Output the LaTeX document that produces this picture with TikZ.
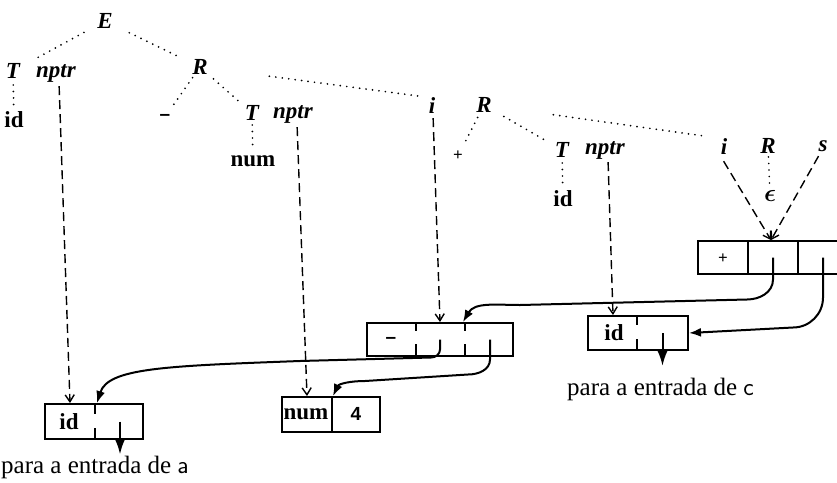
\documentclass[tikz,border=0pt]{standalone}
\usepackage{fontspec}
\setmainfont{Liberation Serif}
\newfontfamily\sansf{Liberation Sans}
\usetikzlibrary{arrows.meta,calc}
\begin{document}
\begin{tikzpicture}[x=1pt,y=-1pt,
  lab/.style={font=\fontsize{23}{26}\selectfont\bfseries\itshape, inner sep=0pt},
  tok/.style={font=\fontsize{23}{26}\selectfont\bfseries, inner sep=0pt},
  small/.style={font=\fontsize{17}{19}\selectfont\bfseries, inner sep=0pt},
  opst/.style={font=\fontsize{19}{21}\selectfont\sansf\bfseries, inner sep=0pt},
  epsst/.style={font=\fontsize{23}{26}\selectfont\boldmath, inner sep=0pt},
  note/.style={font=\fontsize{25}{28}\selectfont, inner sep=0pt, anchor=base west},
  dotl/.style={line width=1.9pt, dash pattern=on 0pt off 6.5pt, line cap=round},
  dsh/.style={line width=1.4pt, dash pattern=on 9pt off 5pt, -{Straight Barb[length=7pt,width=9pt,line width=1.4pt]}},
  ptr/.style={line width=2pt, -{Latex[length=12pt,width=9pt]}},
  ptrdown/.style={line width=2pt, -{Latex[length=15pt,width=10pt]}},
  boxs/.style={draw, line width=1.9pt, inner sep=0pt},
  divl/.style={line width=1.9pt}]
\clip (0,0) rectangle (837,482);

% ---------- tree labels ----------
\node[lab] (E) at (105,21) {E};
\node[lab] (T1) at (13,71) {T};
\node[lab] (np1) at (56,73) {nptr};
\node[tok] (id1) at (14,120) {id};
\node[lab] (R1) at (200,67) {R};
\node[opst] (mi1) at (165,117) {–};
\node[lab] (T2) at (252,113) {T};
\node[lab] (np2) at (293,114) {nptr};
\node[tok] (num1) at (253,161) {num};
\node[lab] (i1) at (432,106) {i};
\node[lab] (R2) at (484,105) {R};
\node[small] (pl1) at (458,156) {+};
\node[lab] (T3) at (562,150) {T};
\node[lab] (np3) at (605,150) {nptr};
\node[tok] (id3) at (563,199) {id};
\node[lab] (i2) at (724,147) {i};
\node[lab] (R3) at (768,146) {R};
\node[lab] (s1) at (823,146) {s};
\node[epsst] (ep) at (770,196) {$\epsilon$};

% ---------- dotted tree edges ----------
\draw[dotl, shorten <=24pt, shorten >=24pt] (E.center) -- (T1.center);
\draw[dotl, shorten <=27pt, shorten >=22pt] (E.center) -- (R1.center);
\draw[dotl, shorten <=14pt, shorten >=13pt] (T1.center) -- (id1.center);
\draw[dotl, shorten <=13pt, shorten >=11pt] (R1.center) -- (mi1.center);
\draw[dotl, shorten <=18pt, shorten >=13pt] (R1.center) -- (T2.center);
\draw[dotl, shorten <=70pt, shorten >=14pt] (R1.center) -- (i1.north);
\draw[dotl, shorten <=12pt, shorten >=12pt] (T2.center) -- (num1.center);
\draw[dotl, shorten <=14pt, shorten >=11pt] (R2.center) -- (pl1.center);
\draw[dotl, shorten <=23pt, shorten >=18pt] (R2.center) -- (T3.center);
\draw[dotl, shorten <=70pt, shorten >=21pt] (R2.center) -- (i2.north);
\draw[dotl, shorten <=13pt, shorten >=13pt] (T3.center) -- (id3.center);
\draw[dotl, shorten <=11pt, shorten >=13pt] (R3.center) -- (ep.center);

% ---------- record boxes ----------
\node[boxs, minimum width=150pt, minimum height=33pt] (bP) at (773,257.5) {};
\node[boxs, minimum width=146pt, minimum height=33pt] (bM) at (440,339.5) {};
\node[boxs, minimum width=100pt, minimum height=34pt] (bC) at (638,333) {};
\node[boxs, minimum width=98pt, minimum height=35pt] (bA) at (94,421.5) {};
\node[boxs, minimum width=98pt, minimum height=35pt] (bN) at (331,414.5) {};

% dividers
\draw[divl] (748,241) -- (748,274) (798,241) -- (798,274);
\draw[divl] (416,323) -- (416,331) (416,344) -- (416,356);
\draw[divl] (465,323) -- (465,331) (465,344) -- (465,356);
\draw[divl] (637,316) -- (637,325) (637,339) -- (637,350);
\draw[divl] (95,404) -- (95,414) (95,428) -- (95,439);
\draw[divl] (332,397) -- (332,432);

% box contents
\node[small] (plusin) at (723,259) {+};
\node[opst] (minusin) at (391,340) {–};
\node[tok] (idC) at (614,333) {id};
\node[tok] (idA) at (69,422) {id};
\node[tok] (numN) at (306,414) {num};
\node[inner sep=0pt, font=\fontsize{19}{21}\selectfont\sansf\bfseries] (four) at (356,414) {4};

% pointer origins
\coordinate (pP1) at (773,257.5);
\coordinate (pP2) at (823,257.5);
\coordinate (pM1) at (440,339.5);
\coordinate (pM2) at (490,339.5);
\coordinate (pC) at (662.5,333);
\coordinate (pA) at (120,421.5);

% ---------- dashed attribute arrows ----------
\draw[dsh, shorten <=4pt] ([xshift=3pt]np1.south) -- ([xshift=-24pt]bA.north);
\draw[dsh, shorten <=4pt] ([xshift=4pt]np2.south) -- ([xshift=-24pt]bN.north);
\draw[dsh, shorten <=4pt] ([xshift=1pt]i1.south) -- (bM.north);
\draw[dsh, shorten <=3pt] ([xshift=3pt]np3.south) -- ([xshift=-25pt]bC.north);
\draw[dsh, shorten <=7pt] ([xshift=-4pt]i2.south) -- ([xshift=-2pt]bP.north);
\draw[dsh, shorten <=5pt] ([xshift=-2pt]s1.south) -- ([xshift=-2pt]bP.north);

% ---------- solid pointer arrows ----------
\draw[ptr] (pP1) -- ++(0,22) to[out=-90,in=0] ++(-26,20) -- (520,305) to[out=180,in=60] ([xshift=23pt]bM.north);
\draw[ptr] (pP2) -- ++(0,40) to[out=-90,in=0] ++(-30,30) -- (bC.east);
\draw[ptr] (pM1) -- ++(0,10) to[out=-90,in=0] ++(-9,8) -- (300,361) .. controls (165,366) and (108,368) .. ([xshift=3pt]bA.north);
\draw[ptr] (pM2) -- ++(0,20) to[out=-90,in=0] ++(-22,15) -- (365,381) to[out=180,in=65] ([xshift=2pt]bN.north);
\draw[ptrdown] (pC) -- ++(0,33);
\draw[ptrdown] (pA) -- ++(0,33);

% ---------- notes ----------
\node[note] (ta) at (1,473) {para a entrada de {\sffamily a}};
\node[note] (tc) at (567,395) {para a entrada de {\sffamily c}};
\end{tikzpicture}
\end{document}
